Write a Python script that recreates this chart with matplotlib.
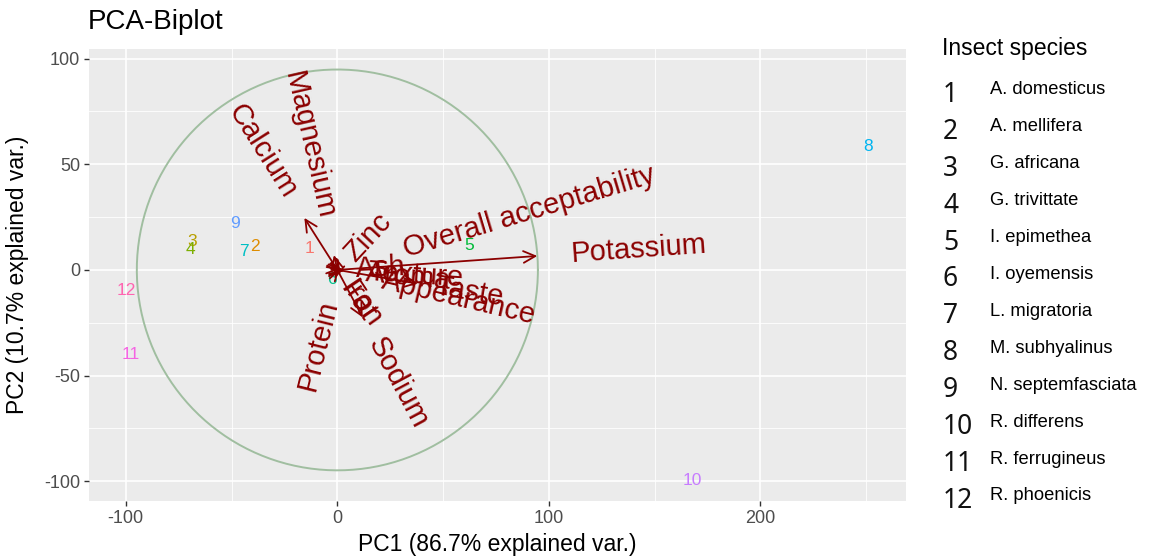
import numpy as np
import matplotlib
matplotlib.use("Agg")
import matplotlib.pyplot as plt

plt.rcParams['font.family'] = ['Liberation Sans', 'DejaVu Sans']
plt.rcParams['axes.unicode_minus'] = False

# insect species (legend) and their scores on PC1 / PC2
species = ["A. domesticus", "A. mellifera", "G. africana", "G. trivittate",
           "I. epimethea", "I. oyemensis", "L. migratoria", "M. subhyalinus",
           "N. septemfasciata", "R. differens", "R. ferrugineus", "R. phoenicis"]
pointLabels = ["1", "2", "3", "4", "5", "6", "7", "8", "9", "10", "11", "12"]
pc1 = [-13.1, -38.8, -68.4, -69.5, 62.1, -2.5, -44.3, 251.0, -48.6, 167.7, -97.9, -99.8]
pc2 = [9.9, 11.3, 13.4, 9.8, 11.5, -4.3, 8.7, 58.2, 22.1, -99.6, -40.2, -9.5]
hueColors = ['#F8766D', '#DE8C00', '#B79F00', '#7CAE00', '#00BA38', '#00C08B',
             '#00BFC4', '#00B4F0', '#619CFF', '#C77CFF', '#F564E3', '#FF64B0']

# variable loadings (arrows)
variables = ["Calcium", "Magnesium", "Zinc", "Overall acceptability", "Potassium",
             "Texture", "Aroma", "Ash", "Taste", "Appearance", "Iron", "Fat",
             "Protein", "Sodium"]
loadX = [-15.6, -1.6, 1.2, 2.0, 94.5, 3.0, 3.2, 2.5, 38.0, 3.0, 1.2, 1.5, -1.0, 12.0]
loadY = [24.6, 7.0, 1.3, 0.6, 6.6, -0.2, -0.3, 0.1, -6.5, -0.7, -1.7, -2.3, -4.0, -22.5]
circleRadius = 94.8

xTicks = [-100, 0, 100, 200]
yTicks = [-100, -50, 0, 50, 100]

darkRed = '#8B0000'
W, H = 1155, 556

fig = plt.figure(figsize=(W / 100, H / 100), dpi=100)
ax = fig.add_axes([89 / W, 1 - 501 / H, (906 - 89) / W, (501 - 49) / H])
ax.set_facecolor('#EBEBEB')
ax.set_xlim(-117.4, 268.8)
ax.set_ylim(-109.3, 104.5)
for s in ax.spines.values():
    s.set_visible(False)

ax.set_xticks(xTicks)
ax.set_yticks(yTicks)
ax.set_xticks([-50, 50, 150, 250], minor=True)
ax.set_yticks([-75, -25, 25, 75], minor=True)
ax.grid(which='major', color='white', lw=1.2)
ax.grid(which='minor', color='white', lw=0.6)
ax.set_axisbelow(True)
ax.tick_params(which='major', length=3.5, width=1.0, color='#333333',
               labelsize=13, labelcolor='#4D4D4D', pad=3)
ax.tick_params(which='minor', length=0)

ax.set_xlabel("PC1 (86.7% explained var.)", fontsize=16.5, va='center')
ax.set_ylabel("PC2 (10.7% explained var.)", fontsize=16.5, va='center')
ax.xaxis.set_label_coords(0.5, -0.097)
ax.yaxis.set_label_coords(-0.087, 0.5)

# correlation circle
theta = np.linspace(0, 2 * np.pi, 300)
ax.plot(circleRadius * np.cos(theta), circleRadius * np.sin(theta),
        color='#A0BEA0', lw=1.4, zorder=2)

# point labels
for lab, x, y, c in zip(pointLabels, pc1, pc2, hueColors):
    ax.text(x, y, lab, color=c, fontsize=12.5, ha='center', va='center', zorder=3)

# arrows
for vx, vy in zip(loadX, loadY):
    ax.annotate('', xy=(vx, vy), xytext=(0, 0),
                arrowprops=dict(arrowstyle='->,head_length=0.85,head_width=0.42',
                                color=darkRed, lw=1.3, shrinkA=0, shrinkB=0),
                zorder=4)

# variable names placed like ggbiplot (hjust = (1 - 1.5*sign(x)) / 2)
fig.canvas.draw()
renderer = fig.canvas.get_renderer()
pxPerUnit = ax.transData.transform((1, 0))[0] - ax.transData.transform((0, 0))[0]
for name, vx, vy in zip(variables, loadX, loadY):
    angle = np.degrees(np.arctan(vy / vx))
    t = ax.text(0, 0, name, fontsize=21, color=darkRed, ha='center', va='center',
                rotation_mode='anchor', zorder=5)
    wData = t.get_window_extent(renderer).width / pxPerUnit
    sgn = np.sign(vx)
    a = np.radians(angle)
    cx = vx + sgn * 0.75 * wData * np.cos(a)
    cy = vy + sgn * 0.75 * wData * np.sin(a)
    t.set_position((cx, cy))
    t.set_rotation(angle)

fig.text(88 / W, 1 - 22 / H, "PCA-Biplot", fontsize=20, va='center', ha='left')

# legend
fig.text(942 / W, 1 - 48 / H, "Insect species", fontsize=16.5, va='center', ha='left')
for i, (lab, name) in enumerate(zip(pointLabels, species)):
    yc = 90 + i * 36.9
    fig.text(943 / W, 1 - (yc + 5) / H, lab, fontsize=19, va='center', ha='left',
             family=['Noto Sans', 'DejaVu Sans'], fontweight='light', color='#111111')
    fig.text(990 / W, 1 - yc / H, name, fontsize=13.2, va='center', ha='left', color='black')

fig.savefig("out.png", dpi=100)
